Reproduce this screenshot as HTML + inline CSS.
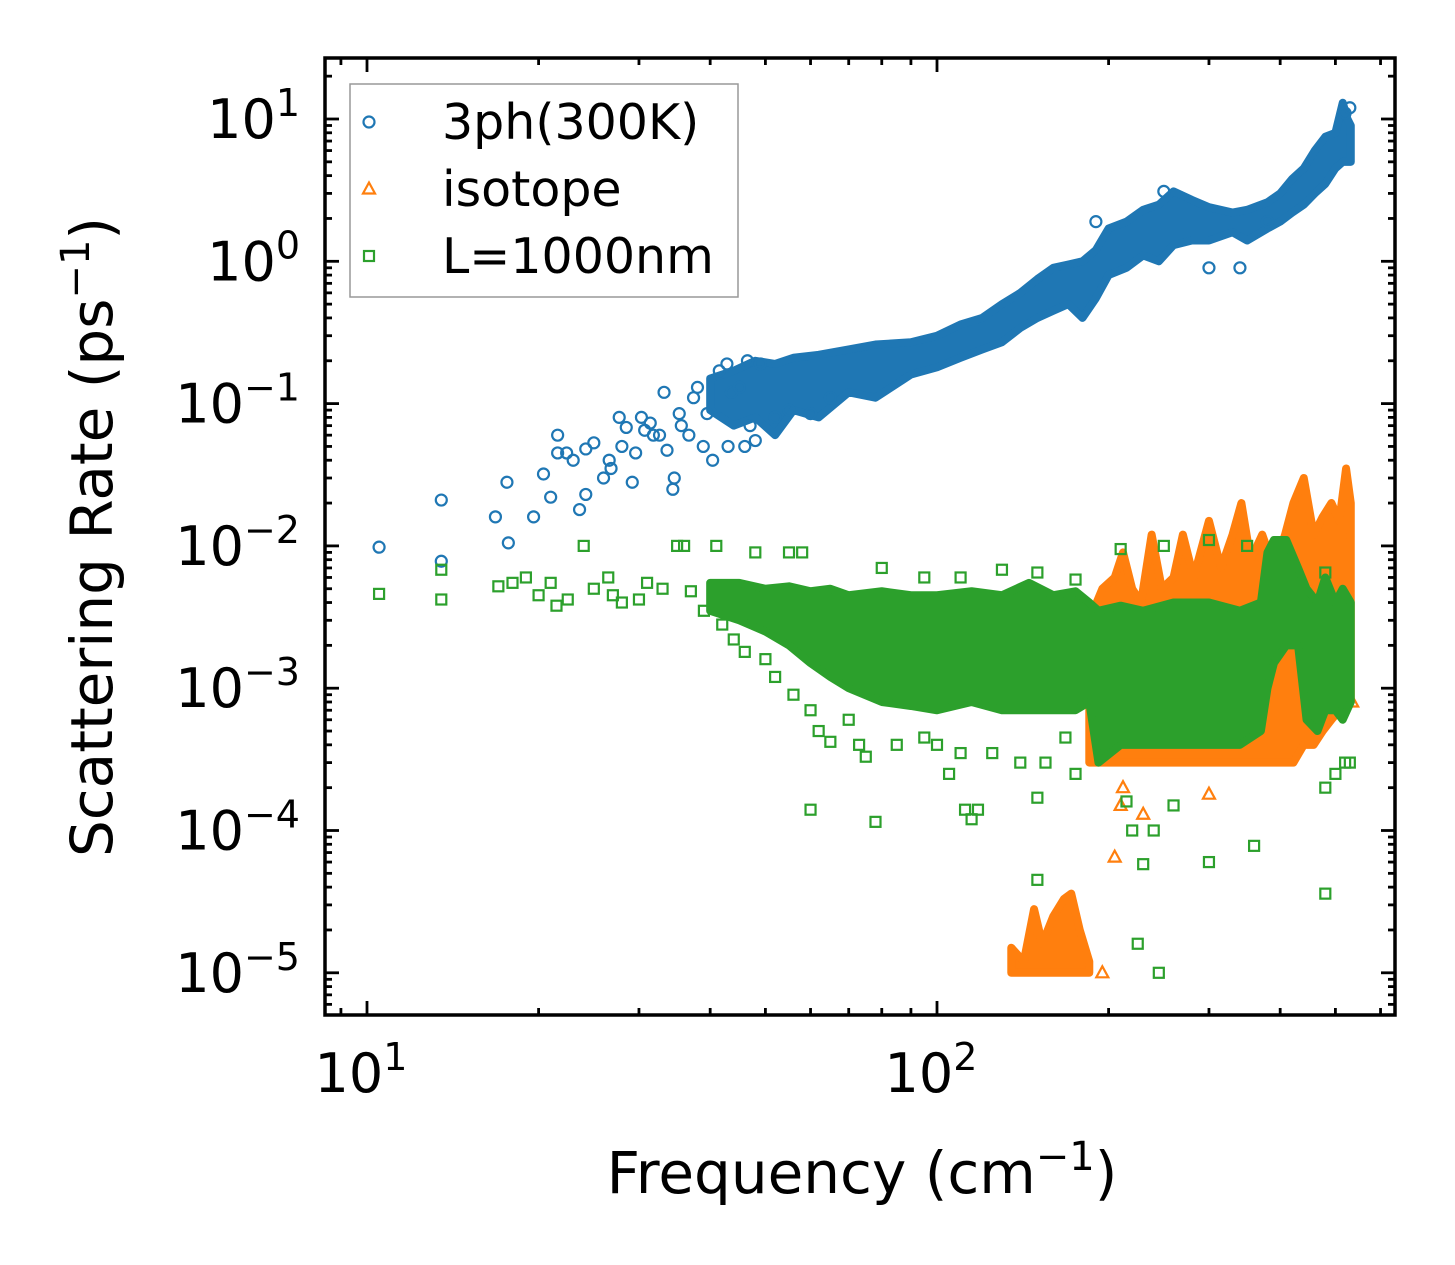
<!DOCTYPE html>
<html><head><meta charset="utf-8"><style>
html,body{margin:0;padding:0;background:#fff;}
svg{display:block;font-family:"DejaVu Sans","Liberation Sans",sans-serif;}
</style></head><body>
<svg id="chart" width="1455" height="1265" viewBox="0 0 1455 1265" xmlns="http://www.w3.org/2000/svg"></svg>
<script>
// ---------- data ----------
const xTickValues = [10, 100];
const xTickLabels = ["1", "2"];
const yTickValues = [10, 1, 0.1, 0.01, 0.001, 0.0001, 0.00001];
const yTickLabels = ["1", "0", "\u22121", "\u22122", "\u22123", "\u22124", "\u22125"];
const legendLabels = ["3ph(300K)", "isotope", "L=1000nm"];

// dense band envelopes [freq, low, high]
const blueBand = [[40,0.09,0.15],[44,0.07,0.17],[48,0.08,0.2],[52,0.06,0.19],[56,0.09,0.21],[62,0.08,0.22],[70,0.12,0.24],[78,0.11,0.26],[90,0.16,0.27],[100,0.18,0.3],[110,0.21,0.36],[120,0.24,0.4],[130,0.27,0.5],[140,0.34,0.6],[150,0.4,0.75],[160,0.45,0.9],[170,0.5,0.95],[180,0.4,1.0],[190,0.55,1.2],[200,0.8,1.7],[215,0.9,1.9],[230,1.1,2.3],[245,1.0,2.5],[260,1.3,3.1],[280,1.4,2.7],[300,1.4,2.4],[330,1.6,2.2],[350,1.4,2.3],[380,1.7,2.6],[400,1.9,3.0],[420,2.2,3.8],[440,2.5,4.5],[460,3,6],[480,3.5,7.5],[500,4.5,8],[515,5,13],[525,5,10],[532,5,9]];
const blueFreq = [10.5,13.5,13.5,16.8,17.6,17.7,19.6,20.4,21,21.6,21.6,22.4,23,23.6,24.2,24.2,25,26,26.6,26.8,27.7,28,28.5,29.2,29.6,30.3,30.7,31.4,31.8,32.6,33.2,33.6,34.4,34.6,35.3,35.6,36.7,37.4,38,38.9,39.5,40.4,41.5,42.8,43,43.6,45,46,46.5,47,48,49,52,55,60,65,190,250,300,340,380,530,520];
const blueRate = [0.0098,0.021,0.0078,0.016,0.028,0.0105,0.016,0.032,0.022,0.06,0.045,0.045,0.04,0.018,0.023,0.048,0.053,0.03,0.04,0.035,0.08,0.05,0.068,0.028,0.045,0.08,0.065,0.073,0.06,0.06,0.12,0.047,0.025,0.03,0.085,0.07,0.06,0.11,0.13,0.05,0.085,0.04,0.17,0.19,0.05,0.12,0.13,0.05,0.2,0.07,0.055,0.19,0.08,0.09,0.085,0.11,1.9,3.1,0.9,0.9,1.9,12,11];

const orangeBand = [[185,0.0003,0.003],[195,0.0003,0.005],[205,0.0003,0.006],[212,0.0003,0.009],[220,0.0003,0.005],[228,0.0003,0.004],[238,0.0003,0.012],[248,0.0003,0.005],[260,0.0003,0.006],[270,0.0003,0.012],[282,0.0003,0.006],[300,0.0003,0.015],[315,0.0003,0.007],[330,0.0003,0.012],[342,0.0003,0.02],[355,0.0003,0.008],[372,0.0003,0.012],[390,0.0003,0.007],[408,0.0003,0.012],[422,0.0003,0.02],[440,0.0004,0.03],[458,0.0004,0.012],[475,0.0005,0.016],[492,0.0006,0.02],[508,0.0007,0.015],[522,0.0008,0.035],[532,0.0008,0.02]];
const orangeCluster = [[135,0.00001,0.000015],[142,0.00001,0.000012],[148,0.00001,0.000028],[153,0.00001,0.000016],[160,0.00001,0.000025],[167,0.00001,0.000033],[172,0.00001,0.000036],[178,0.00001,0.00002],[185,0.00001,0.000012]];
const orangeFreq = [205,230,300,195,535,210,212];
const orangeRate = [0.000065,0.00013,0.00018,0.00001,0.0008,0.00015,0.0002];

const greenBand = [[40,0.0035,0.0055],[45,0.003,0.0055],[50,0.0025,0.005],[55,0.002,0.0052],[60,0.0015,0.0048],[65,0.0012,0.005],[70,0.001,0.0045],[80,0.0008,0.0048],[90,0.00075,0.0045],[100,0.0007,0.0045],[115,0.0008,0.0048],[130,0.0007,0.0045],[145,0.0007,0.0055],[160,0.0007,0.0045],[175,0.0007,0.0048],[185,0.0008,0.004],[192,0.0003,0.0035],[210,0.0004,0.0038],[230,0.0004,0.0035],[260,0.0004,0.004],[300,0.0004,0.004],[340,0.0004,0.0035],[370,0.0005,0.004],[380,0.001,0.009],[390,0.0015,0.011],[410,0.002,0.011],[430,0.002,0.007],[445,0.0006,0.005],[465,0.0005,0.004],[480,0.0007,0.006],[500,0.0007,0.004],[515,0.0006,0.005],[532,0.0008,0.004]];
const greenFreq = [10.5,13.5,13.5,17,18,19,20,21,21.5,22.5,24,25,26.5,27,28,30,31,33,35,36,37,39,41,42,44,46,48,50,52,55,56,58,60,62,65,70,73,75,78,60,85,95,100,105,110,112,115,118,125,140,150,155,168,175,150,215,220,230,240,245,225,260,300,360,480,480,500,520,530,210,250,300,350,480,80,95,110,130,150,175];
const greenRate = [0.0046,0.0068,0.0042,0.0052,0.0055,0.006,0.0045,0.0055,0.0038,0.0042,0.01,0.005,0.006,0.0045,0.004,0.0042,0.0055,0.005,0.01,0.01,0.0048,0.0035,0.01,0.0028,0.0022,0.0018,0.009,0.0016,0.0012,0.009,0.0009,0.009,0.0007,0.0005,0.00042,0.0006,0.0004,0.00033,0.000115,0.00014,0.0004,0.00045,0.0004,0.00025,0.00035,0.00014,0.00012,0.00014,0.00035,0.0003,0.00017,0.0003,0.00045,0.00025,0.000045,0.00016,0.0001,0.000058,0.0001,0.00001,0.000016,0.00015,0.00006,0.000078,0.000036,0.0002,0.00025,0.0003,0.0003,0.0095,0.01,0.011,0.01,0.0065,0.007,0.006,0.006,0.0068,0.0065,0.0058];

// ---------- axes ----------
const L=325,R=1395,T=58,B=1015;
const X = v => 367 + 570*(Math.log10(v)-1);
const Y = v => 119 - 142.3*(Math.log10(v)-1);
const NS="http://www.w3.org/2000/svg";
const svg=document.getElementById('chart');
function mk(tag,attrs,parent){const e=document.createElementNS(NS,tag);for(const k in attrs)e.setAttribute(k,attrs[k]);(parent||svg).appendChild(e);return e;}
const BLUE="#1f77b4",ORANGE="#ff7f0e",GREEN="#2ca02c";

const clip=mk('clipPath',{id:'pc'});mk('rect',{x:L,y:T,width:R-L,height:B-T},clip);
const plot=mk('g',{'clip-path':'url(#pc)'});



function band(arr,color,name){
  let pts=arr.map(d=>X(d[0])+','+Y(d[2]));
  pts=pts.concat(arr.slice().reverse().map(d=>X(d[0])+','+Y(d[1])));
  const p=mk('polygon',{points:pts.join(' '),fill:color,stroke:color,'stroke-width':8,'stroke-linejoin':'round'},plot);
  
  
}
function marker(type,x,y,color,parent){
  let e;
  if(type==='o') e=mk('circle',{cx:x,cy:y,r:5.5,fill:'none',stroke:color,'stroke-width':2.2},parent);
  else if(type==='s') e=mk('rect',{x:x-5,y:y-5,width:10,height:10,fill:'none',stroke:color,'stroke-width':2.2},parent);
  else e=mk('polygon',{points:`${x},${y-6.5} ${x-6},${y+4.5} ${x+6},${y+4.5}`,fill:'none',stroke:color,'stroke-width':2.2},parent);
  return e;
}
band(blueBand,BLUE,'3ph-dense-band');
blueFreq.forEach((f,i)=>{const m=marker('o',X(f),Y(blueRate[i]),BLUE,plot);

});
band(orangeBand,ORANGE,'isotope-dense-band');
band(orangeCluster,ORANGE,'isotope-low-cluster');
orangeFreq.forEach((f,i)=>{const m=marker('t',X(f),Y(orangeRate[i]),ORANGE,plot);

});
band(greenBand,GREEN,'boundary-dense-band');
greenFreq.forEach((f,i)=>{const m=marker('s',X(f),Y(greenRate[i]),GREEN,plot);

});

const frame=mk('rect',{x:L,y:T,width:R-L,height:B-T,fill:'none',stroke:'#000','stroke-width':3.5});


const tg=mk('g',{stroke:'#000','stroke-width':2.8});


for(let d=0;d<=2;d++){for(let k=1;k<10;k++){const v=k*Math.pow(10,d);const x=X(v);if(x<L||x>R)continue;const len=k===1?14:7;
  mk('line',{x1:x,y1:B,x2:x,y2:B-len},tg);mk('line',{x1:x,y1:T,x2:x,y2:T+len},tg);}}
for(let d=-6;d<=1;d++){for(let k=1;k<10;k++){const v=k*Math.pow(10,d);const y=Y(v);if(y<T||y>B)continue;const len=k===1?14:7;
  mk('line',{x1:L,y1:y,x2:L+len,y2:y},tg);mk('line',{x1:R,y1:y,x2:R-len,y2:y},tg);}}
xTickValues.forEach((v,i)=>{const t=mk('text',{x:X(v)-6,y:1092,'font-size':54,'text-anchor':'middle'});


t.innerHTML='10<tspan dy="-22" font-size="38">'+xTickLabels[i]+'</tspan>';});
yTickValues.forEach((v,i)=>{const t=mk('text',{x:300,y:Y(v)+19,'font-size':54,'text-anchor':'end'});


t.innerHTML='10<tspan dy="-22" font-size="38">'+yTickLabels[i]+'</tspan>';});
const xt=mk('text',{x:862,y:1193,'font-size':58,'text-anchor':'middle'});


xt.innerHTML='Frequency (cm<tspan dy="-23" font-size="40">\u22121</tspan><tspan dy="23">)</tspan>';
const yt=mk('text',{x:0,y:0,'font-size':58,'text-anchor':'middle',transform:'translate(112,537) rotate(-90)'});


yt.innerHTML='Scattering Rate (ps<tspan dy="-23" font-size="40">\u22121</tspan><tspan dy="23">)</tspan>';
const lg=mk('g',{});


mk('rect',{x:350,y:84,width:388,height:213,fill:'#fff',stroke:'#999','stroke-width':1.5},lg);
const types=['o','t','s'],cols=[BLUE,ORANGE,GREEN];
legendLabels.forEach((lab,i)=>{const y=122+i*67;
  const m=marker(types[i],369,y,cols[i],lg);
  
  
  const t=mk('text',{x:442,y:y+17,'font-size':49},lg);t.textContent=lab;
  
  });
</script>
</body></html>
